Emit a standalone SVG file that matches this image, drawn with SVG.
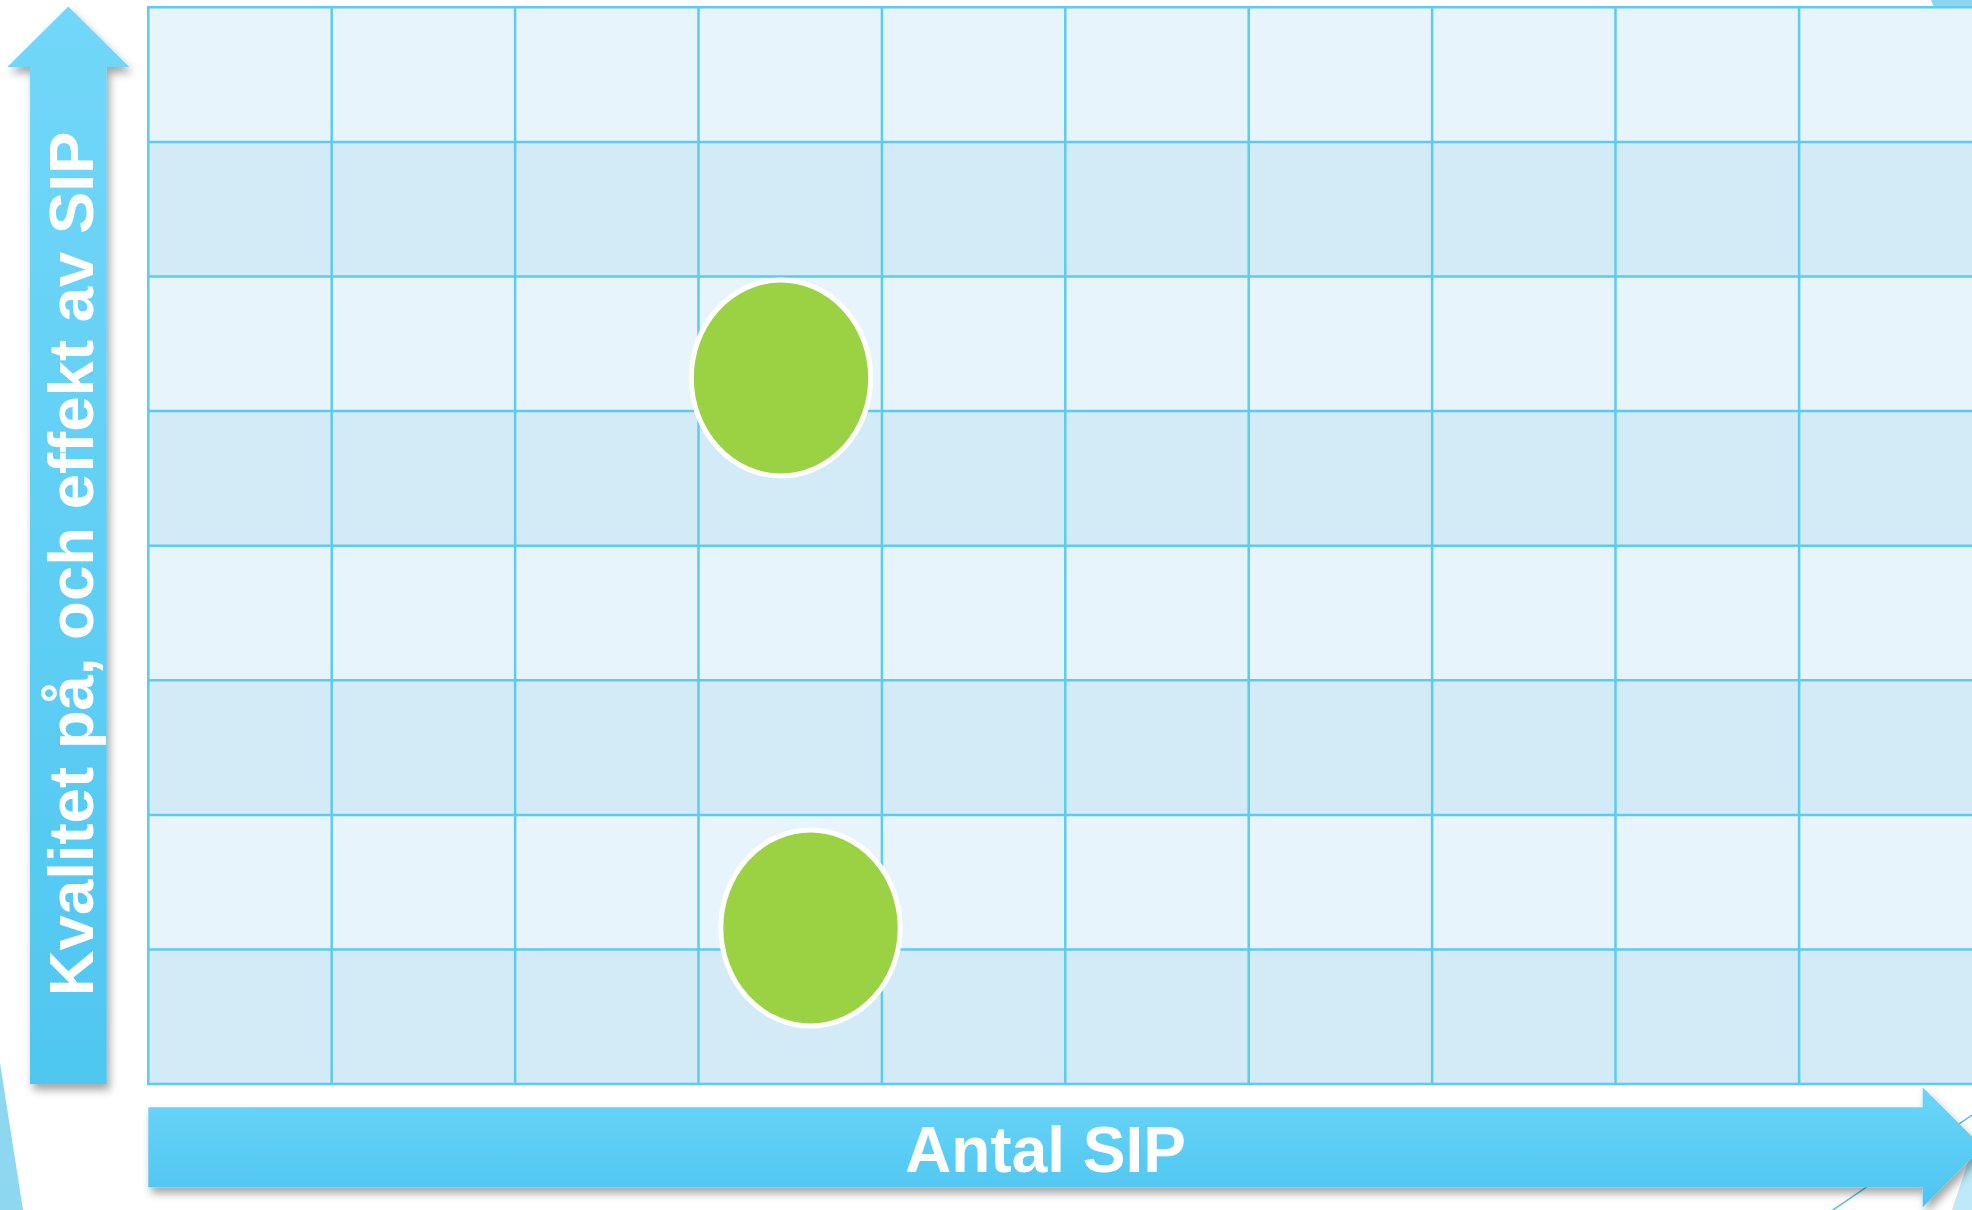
<svg xmlns="http://www.w3.org/2000/svg" width="1972" height="1210" viewBox="0 0 1972 1210">
  <style>
    .light { fill: #E8F4FB; }
    .dark { fill: #D3EAF7; }
    .grid line { stroke: #5BCBF0; stroke-width: 2.5; }
    .dot { fill: #9AD243; stroke: #FFFFFF; stroke-width: 5; }
    .axis-label { font-family: "Liberation Sans", Arial, sans-serif; font-weight: bold; fill: #FFFFFF; }
  </style>
  <defs>
    <linearGradient id="gV" x1="0" y1="0" x2="0" y2="1">
      <stop offset="0" stop-color="#72D7F9"/>
      <stop offset="1" stop-color="#4FC7F0"/>
    </linearGradient>
    <linearGradient id="gH" x1="0" y1="0" x2="0" y2="1">
      <stop offset="0" stop-color="#6BD5F8"/>
      <stop offset="1" stop-color="#4CC5F0"/>
    </linearGradient>
    <filter id="shadow" x="-10%" y="-10%" width="130%" height="130%">
      <feDropShadow dx="3" dy="6" stdDeviation="4" flood-color="#000000" flood-opacity="0.35"/>
    </filter>
  </defs>

  <rect x="0" y="0" width="1972" height="1210" fill="#FFFFFF"/>

  <!-- background decorations -->
  <g id="decor">
    <polygon points="1931,0 1972,0 1972,8 1934,8" fill="#8DD5F0"/>
    <polygon points="0,1063 23,1210 0,1210" fill="#8DD8F0"/>
    <line x1="1830" y1="1212" x2="1972" y2="1115" stroke="#5BBDE0" stroke-width="1.5"/>
    <polygon points="1952,1210 1972,1150 1972,1210" fill="#BEE9F8"/>
  </g>

  <!-- grid -->
  <g id="grid" class="grid">
    <rect class="light" x="148.3" y="7.3" width="1830" height="134.6"/>
    <rect class="dark" x="148.3" y="141.9" width="1830" height="134.6"/>
    <rect class="light" x="148.3" y="276.5" width="1830" height="134.6"/>
    <rect class="dark" x="148.3" y="411.1" width="1830" height="134.6"/>
    <rect class="light" x="148.3" y="545.7" width="1830" height="134.6"/>
    <rect class="dark" x="148.3" y="680.3" width="1830" height="134.6"/>
    <rect class="light" x="148.3" y="814.9" width="1830" height="134.6"/>
    <rect class="dark" x="148.3" y="949.5" width="1830" height="134.6"/>
    <line x1="148.3" y1="7.3" x2="148.3" y2="1084.2"/>
    <line x1="331.7" y1="7.3" x2="331.7" y2="1084.2"/>
    <line x1="515.1" y1="7.3" x2="515.1" y2="1084.2"/>
    <line x1="698.5" y1="7.3" x2="698.5" y2="1084.2"/>
    <line x1="881.9" y1="7.3" x2="881.9" y2="1084.2"/>
    <line x1="1065.3" y1="7.3" x2="1065.3" y2="1084.2"/>
    <line x1="1248.7" y1="7.3" x2="1248.7" y2="1084.2"/>
    <line x1="1432.1" y1="7.3" x2="1432.1" y2="1084.2"/>
    <line x1="1615.5" y1="7.3" x2="1615.5" y2="1084.2"/>
    <line x1="1799.1" y1="7.3" x2="1799.1" y2="1084.2"/>
    <line x1="147" y1="7.3" x2="1980" y2="7.3"/>
    <line x1="147" y1="141.9" x2="1980" y2="141.9"/>
    <line x1="147" y1="276.5" x2="1980" y2="276.5"/>
    <line x1="147" y1="411.1" x2="1980" y2="411.1"/>
    <line x1="147" y1="545.7" x2="1980" y2="545.7"/>
    <line x1="147" y1="680.3" x2="1980" y2="680.3"/>
    <line x1="147" y1="814.9" x2="1980" y2="814.9"/>
    <line x1="147" y1="949.5" x2="1980" y2="949.5"/>
    <line x1="147" y1="1084.1" x2="1980" y2="1084.1"/>
  </g>

  <!-- axes -->
  <g id="axis-y">
    <polygon points="30,1084 30,67 7.3,67 68.3,6.5 129.3,67 106.7,67 106.7,1084" fill="url(#gV)" filter="url(#shadow)"/>
    <text class="axis-label" font-size="63.5" text-anchor="middle" transform="translate(93.3,564) rotate(-90)">Kvalitet på, och effekt av SIP</text>
  </g>
  <g id="axis-x">
    <polygon points="148.3,1107.3 1922.7,1107.3 1922.7,1087.3 1982.7,1147.3 1922.7,1207.3 1922.7,1187.3 148.3,1187.3" fill="url(#gH)" filter="url(#shadow)"/>
    <text class="axis-label" font-size="64" text-anchor="middle" x="1045.5" y="1171.7">Antal SIP</text>
  </g>

  <!-- nodes -->
  <g id="node-1">
    <ellipse class="dot" cx="781" cy="378" rx="89.7" ry="98"/>
  </g>
  <g id="node-2">
    <ellipse class="dot" cx="810.5" cy="928" rx="89.7" ry="98"/>
  </g>

  <g id="connectors"></g>
</svg>
